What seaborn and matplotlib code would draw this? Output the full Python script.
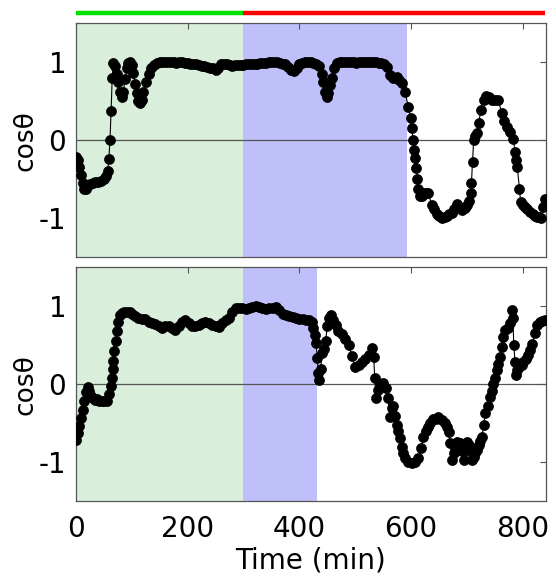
import matplotlib
matplotlib.use("Agg")
import matplotlib.pyplot as plt
import matplotlib.transforms as mtransforms
import seaborn as sns
import pandas as pd

# ---------------- data ----------------
top_time = [0, 3, 6, 9, 12, 15, 18, 21, 25, 30, 35, 40, 45, 50, 54, 57, 59, 61, 63, 65,
            67, 70, 73, 76, 79, 82, 85, 88, 91, 94, 97, 100, 103, 106, 109, 112, 115, 118, 121, 125,
            130, 135, 140, 145, 150, 155, 160, 165, 170, 175, 180, 185, 190, 195, 200, 205, 210, 215, 220, 225,
            230, 235, 240, 245, 250, 255, 260, 265, 270, 275, 280, 285, 290, 295, 300, 305, 310, 315, 320, 325,
            330, 335, 340, 345, 350, 355, 360, 365, 370, 375, 380, 385, 390, 395, 400, 405, 410, 415, 420, 425,
            430, 435, 440, 443, 446, 449, 452, 455, 458, 462, 467, 472, 477, 482, 487, 492, 497, 502, 507, 512,
            517, 522, 527, 532, 537, 542, 547, 552, 556, 562, 568, 574, 579, 583, 589, 595, 599, 601, 604, 606,
            607, 609, 611, 613, 616, 619, 622, 626, 631, 637, 641, 646, 650, 655, 660, 664, 668, 673, 677, 682,
            686, 691, 696, 700, 704, 707, 708, 710, 712, 715, 718, 721, 725, 730, 735, 740, 745, 750, 756, 762,
            767, 771, 777, 783, 786, 788, 790, 794, 796, 800, 804, 808, 813, 818, 822, 825, 829, 832, 836, 840]
top_cos = [-0.22, -0.26, -0.35, -0.45, -0.55, -0.62, -0.62, -0.58, -0.56, -0.55, -0.54, -0.53, -0.52, -0.50, -0.46, -0.40, -0.24, 0.00, 0.37, 0.80,
           0.99, 0.95, 0.85, 0.75, 0.62, 0.55, 0.62, 0.78, 0.92, 0.99, 1.00, 0.96, 0.86, 0.72, 0.60, 0.50, 0.47, 0.52, 0.62, 0.74,
           0.85, 0.92, 0.96, 0.99, 1.00, 1.00, 1.00, 1.00, 1.00, 1.00, 0.99, 1.00, 1.00, 0.99, 0.99, 0.98, 0.98, 0.97, 0.96, 0.95,
           0.95, 0.94, 0.93, 0.92, 0.90, 0.93, 0.97, 0.98, 0.98, 0.96, 0.95, 0.96, 0.96, 0.96, 0.96, 0.97, 0.97, 0.98, 0.98, 0.98,
           0.99, 0.99, 0.99, 1.00, 1.00, 1.00, 1.00, 0.99, 0.98, 0.97, 0.94, 0.90, 0.88, 0.92, 0.97, 0.99, 1.00, 1.00, 1.00, 0.99,
           0.98, 0.95, 0.85, 0.75, 0.62, 0.55, 0.60, 0.70, 0.80, 0.92, 0.99, 1.00, 1.00, 1.00, 1.00, 1.00, 1.00, 0.99, 1.00, 1.00,
           1.00, 1.00, 1.00, 1.00, 1.00, 0.99, 0.99, 0.97, 0.94, 0.84, 0.80, 0.81, 0.77, 0.73, 0.62, 0.43, 0.28, 0.15, 0.00, -0.12,
           -0.23, -0.36, -0.50, -0.62, -0.72, -0.72, -0.68, -0.68, -0.68, -0.83, -0.88, -0.94, -0.97, -1.00, -0.99, -0.97, -0.95, -0.93, -0.88, -0.82,
           -0.85, -0.89, -0.87, -0.83, -0.78, -0.68, -0.55, -0.28, 0.00, 0.05, 0.09, 0.22, 0.39, 0.52, 0.56, 0.55, 0.52, 0.52, 0.52, 0.35,
           0.25, 0.17, 0.10, 0.02, -0.15, -0.25, -0.34, -0.62, -0.79, -0.83, -0.85, -0.88, -0.92, -0.95, -0.97, -0.98, -0.99, -1.00, -0.85, -0.76]

bot_time = [0, 3, 6, 9, 12, 15, 18, 21, 24, 27, 30, 34, 38, 42, 46, 50, 55, 59, 62, 64,
            66, 67, 69, 71, 73, 76, 79, 82, 86, 91, 96, 101, 106, 112, 118, 124, 130, 136, 142, 148,
            154, 160, 166, 172, 178, 184, 190, 196, 202, 208, 214, 220, 226, 232, 238, 244, 250, 256, 262, 268,
            274, 280, 286, 292, 298, 304, 310, 316, 322, 328, 334, 340, 346, 352, 358, 364, 370, 376, 382, 388,
            394, 400, 406, 412, 418, 422, 425, 428, 430, 432, 434, 436, 438, 441, 444, 447, 450, 453, 456, 460,
            465, 470, 476, 482, 488, 494, 500, 506, 512, 518, 524, 530, 533, 535, 537, 540, 545, 550, 555, 559,
            562, 565, 568, 571, 574, 577, 580, 583, 586, 590, 595, 601, 607, 613, 618, 622, 626, 630, 634, 640,
            645, 649, 655, 661, 665, 667, 670, 673, 676, 679, 682, 685, 688, 691, 694, 697, 700, 703, 706, 709,
            712, 715, 718, 721, 724, 727, 730, 733, 737, 741, 744, 747, 750, 753, 756, 759, 762, 765, 769, 773,
            777, 780, 782, 784, 786, 788, 790, 794, 798, 801, 805, 809, 813, 817, 822, 826, 830, 835, 840]
bot_cos = [-0.71, -0.62, -0.53, -0.43, -0.33, -0.22, -0.10, -0.03, -0.08, -0.15, -0.17, -0.20, -0.19, -0.21, -0.22, -0.22, -0.21, -0.12, -0.02, 0.08,
           0.20, 0.30, 0.42, 0.55, 0.68, 0.80, 0.88, 0.91, 0.93, 0.93, 0.92, 0.90, 0.87, 0.85, 0.84, 0.83, 0.80, 0.79, 0.77, 0.74,
           0.72, 0.74, 0.75, 0.72, 0.70, 0.74, 0.80, 0.82, 0.78, 0.75, 0.74, 0.76, 0.79, 0.80, 0.78, 0.76, 0.75, 0.73, 0.78, 0.82,
           0.85, 0.93, 0.97, 0.98, 0.97, 0.96, 0.98, 0.99, 1.00, 0.99, 0.97, 0.96, 0.97, 0.98, 0.99, 0.95, 0.90, 0.88, 0.87, 0.86,
           0.85, 0.84, 0.83, 0.82, 0.82, 0.80, 0.72, 0.63, 0.53, 0.34, 0.14, 0.05, 0.20, 0.40, 0.45, 0.55, 0.75, 0.85, 0.89, 0.82,
           0.76, 0.68, 0.64, 0.58, 0.50, 0.36, 0.22, 0.25, 0.28, 0.32, 0.38, 0.46, 0.35, 0.08, -0.18, -0.07, -0.02, 0.01, -0.05, -0.18,
           -0.42, -0.30, -0.28, -0.40, -0.52, -0.60, -0.69, -0.80, -0.88, -0.95, -0.99, -1.01, -1.00, -0.95, -0.82, -0.67, -0.60, -0.55, -0.50, -0.45,
           -0.44, -0.42, -0.46, -0.50, -0.55, -0.61, -0.75, -0.97, -0.88, -0.80, -0.74, -0.76, -0.75, -0.85, -0.97, -0.84, -0.74, -0.78, -0.86, -0.97,
           -0.93, -0.88, -0.84, -0.78, -0.72, -0.67, -0.52, -0.37, -0.28, -0.16, -0.08, 0.00, 0.08, 0.18, 0.26, 0.35, 0.48, 0.61, 0.70, 0.72,
           0.79, 0.95, 0.85, 0.50, 0.28, 0.12, 0.18, 0.22, 0.25, 0.29, 0.32, 0.37, 0.44, 0.52, 0.65, 0.76, 0.80, 0.81, 0.82]

# phases: (start, end)
green_span = (0, 300)
top_blue_span = (300, 593)
bot_blue_span = (300, 431)
bar_green = (0, 300)
bar_red = (300, 840)

xticks = [0, 200, 400, 600, 800]
yticks = [-1, 0, 1]

# ---------------- style ----------------
sns.set_style("white")
plt.rcParams['font.family'] = ['DejaVu Sans']
plt.rcParams['text.color'] = 'black'
plt.rcParams['axes.labelcolor'] = 'black'

GREEN_BG = "#d9efdc"
BLUE_BG = "#bfbffa"
SPINE = "#555555"

fig = plt.figure(figsize=(5.56, 5.87), dpi=100)
ax1 = fig.add_axes([0.1365, 0.5617, 0.845, 0.3991])
ax2 = fig.add_axes([0.1365, 0.1457, 0.845, 0.3994])

def style(ax, blue_span, t, c):
    ax.axvspan(*green_span, color=GREEN_BG, zorder=0, lw=0)
    ax.axvspan(*blue_span, color=BLUE_BG, zorder=0, lw=0)
    ax.axhline(0, color="#555555", lw=0.9, zorder=1)
    df = pd.DataFrame({"t": t, "c": c})
    sns.lineplot(data=df, x="t", y="c", ax=ax, color="black", lw=0.8,
                 marker="o", markersize=7.2, markeredgecolor="black",
                 markeredgewidth=0.5, zorder=3)
    ax.set_xlim(0, 841)
    ax.set_ylim(-1.5, 1.5)
    ax.set_xticks(xticks)
    ax.set_yticks(yticks)
    ax.set_yticklabels(["-1", "0", "1"])
    ax.tick_params(direction="in", length=4, width=0.8, color=SPINE,
                   labelcolor="black", top=True, right=True, labelsize=20, pad=7)
    for s in ax.spines.values():
        s.set_color(SPINE)
        s.set_linewidth(0.9)
    ax.set_ylabel("cosθ", fontsize=19, labelpad=0, color="black")
    ax.set_xlabel("")

style(ax1, top_blue_span, top_time, top_cos)
style(ax2, bot_blue_span, bot_time, bot_cos)

ax1.tick_params(labelbottom=False)
ax2.set_xlabel("Time (min)", fontsize=20, labelpad=2, color="black")
ax2.tick_params(axis="x", pad=10)

# phase bar above the top panel
trans = mtransforms.blended_transform_factory(ax1.transData, ax1.transAxes)
ax1.plot(bar_green, [1.042, 1.042], color="#00e000", lw=3.2, transform=trans,
         clip_on=False, solid_capstyle="butt")
ax1.plot(bar_red, [1.042, 1.042], color="#ff0000", lw=3.2, transform=trans,
         clip_on=False, solid_capstyle="butt")

fig.align_ylabels([ax1, ax2])
fig.savefig("out.png", dpi=100)
